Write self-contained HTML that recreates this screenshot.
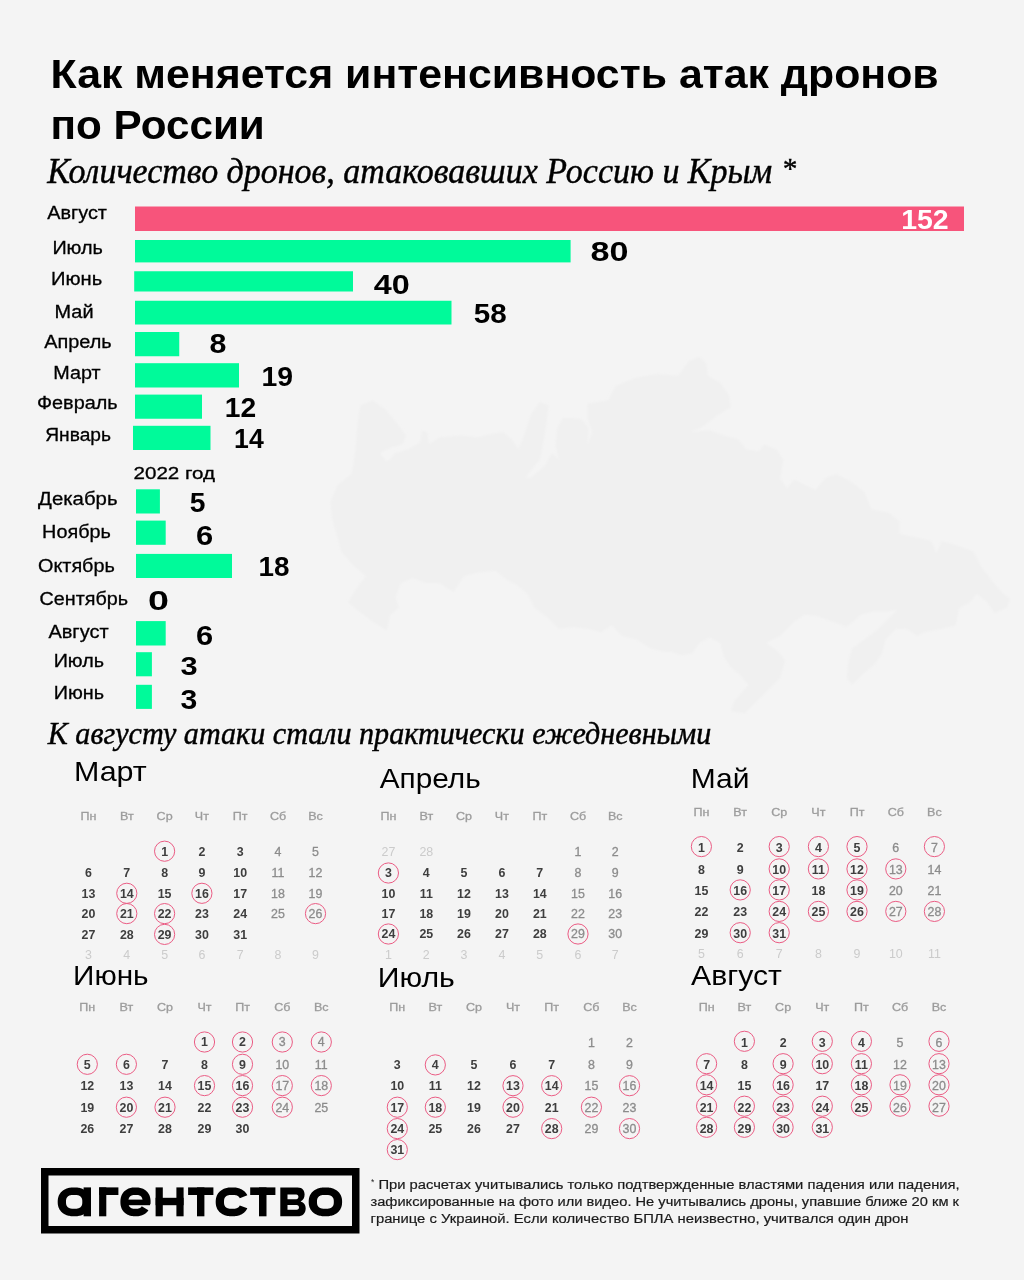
<!DOCTYPE html>
<html lang="ru">
<head>
<meta charset="utf-8">
<title>Как меняется интенсивность атак дронов по России</title>
<style>
html,body{margin:0;padding:0;background:#f4f4f4;}
body{width:1024px;height:1280px;overflow:hidden;font-family:'Liberation Sans',sans-serif;}
svg{display:block;will-change:transform;}
</style>
</head>
<body>
<svg width="1024" height="1280" viewBox="0 0 1024 1280">
<rect width="1024" height="1280" fill="#f4f4f4"/>
<defs><filter id="soft" x="-5%" y="-5%" width="110%" height="110%"><feGaussianBlur stdDeviation="1.2"/></filter></defs>
<polygon points="360.4,405.6 372.7,400.3 385.0,409.1 395.6,421.4 406.1,435.5 402.6,444.3 390.3,447.8 379.8,453.0 386.8,461.8 395.6,453.0 407.9,449.5 420.2,442.5 422.0,430.2 427.2,432.0 429.0,444.3 439.5,437.2 460.6,435.5 478.2,437.2 492.3,433.7 502.8,432.0 511.6,439.0 518.6,449.5 523.9,435.5 530.9,414.4 539.7,402.1 548.5,405.6 546.8,421.4 543.2,442.5 539.7,460.1 530.9,470.6 525.7,477.7 530.9,477.7 545.0,465.4 552.0,453.0 559.1,460.1 555.5,446.0 557.3,428.4 562.6,417.9 573.1,417.9 581.9,419.6 588.9,428.4 587.2,446.0 592.5,432.0 587.2,417.9 587.2,403.8 608.3,400.3 615.3,386.2 636.4,377.5 657.5,373.9 678.1,375.7 688.6,361.6 699.2,356.4 706.2,363.4 707.9,375.7 720.2,382.7 729.0,395.0 730.8,407.3 716.7,416.1 702.7,426.7 690.4,432.0 709.7,430.2 723.8,435.5 737.8,439.0 746.6,449.5 758.9,451.3 764.2,444.3 776.5,449.5 783.5,460.1 780.0,477.7 787.0,488.2 794.1,479.4 804.6,484.7 815.2,490.0 825.7,477.7 836.3,474.1 850.3,481.2 864.4,491.7 871.4,509.3 889.0,512.8 899.5,521.6 899.5,533.9 917.1,537.4 931.2,540.9 936.5,553.2 941.7,540.9 959.3,546.2 973.4,551.5 980.4,565.5 991.0,579.6 1001.5,591.9 1010.3,598.9 1006.8,607.7 994.5,613.0 987.4,602.5 976.9,593.7 969.9,602.5 959.3,607.7 955.8,625.3 941.7,628.8 924.2,632.3 917.1,635.9 906.6,628.8 896.0,628.8 885.5,639.4 882.0,653.4 874.9,664.0 864.4,672.8 852.1,685.1 846.8,678.0 848.6,660.5 852.1,648.2 864.4,639.4 878.5,628.8 892.5,614.8 897.8,609.5 889.0,611.2 874.9,611.2 860.9,614.8 846.8,627.1 832.8,621.8 818.7,616.5 804.6,614.8 794.1,621.8 780.0,635.9 766.0,642.9 776.5,649.9 785.3,660.5 780.0,678.0 769.5,688.6 755.4,702.7 744.9,713.2 730.8,711.4 734.3,700.9 748.4,685.1 739.6,674.5 730.8,667.5 723.8,657.0 720.2,642.9 709.7,637.6 699.2,642.9 692.1,653.4 681.6,655.2 671.0,651.7 664.5,651.7 650.5,648.2 636.4,639.4 622.3,635.9 611.8,625.3 601.2,632.3 587.2,628.8 573.1,627.1 559.1,628.8 548.5,618.3 534.5,607.7 527.4,593.7 516.9,584.9 506.3,579.6 495.8,570.8 478.2,572.6 464.1,576.1 453.6,591.9 439.5,583.1 425.5,583.1 413.2,577.9 400.9,583.1 395.6,597.2 399.1,607.7 390.3,614.8 386.8,630.6 372.7,621.8 358.7,611.2 348.1,602.5 355.2,590.2 365.7,576.1 353.4,565.5 341.1,551.5 337.6,537.4 332.3,519.8 330.5,502.3 337.6,484.7 351.6,474.1 355.2,453.0 356.9,432.0 358.7,414.4" fill="#f0f0f0" filter="url(#soft)"/>
<text x="50.5" y="88.3" font-family="'Liberation Sans', sans-serif" font-size="41.3" font-weight="bold" textLength="888.21" lengthAdjust="spacingAndGlyphs">Как меняется интенсивность атак дронов</text>
<text x="50.5" y="138.7" font-family="'Liberation Sans', sans-serif" font-size="41.3" font-weight="bold" textLength="214.33" lengthAdjust="spacingAndGlyphs">по России</text>
<text x="47.2" y="183.4" font-family="'Liberation Serif', serif" font-size="35.5" font-style="italic" textLength="724.91" lengthAdjust="spacingAndGlyphs" stroke="#000" stroke-width="0.45">Количество дронов, атаковавших Россию и Крым</text>
<text x="781.4" y="178" font-family="'Liberation Serif', serif" font-size="29" font-style="italic" stroke="#000" stroke-width="0.45">*</text>
<text x="47.8" y="743.6" font-family="'Liberation Serif', serif" font-size="31.5" font-style="italic" textLength="663.47" lengthAdjust="spacingAndGlyphs" stroke="#000" stroke-width="0.45">К августу атаки стали практически ежедневными</text>
<rect x="135" y="206.5" width="829" height="24.5" fill="#f7547b"/>
<text x="47.2" y="219.2" font-family="'Liberation Sans', sans-serif" font-size="18" textLength="59.74" lengthAdjust="spacingAndGlyphs" stroke="#000" stroke-width="0.3">Август</text>
<text x="901.2" y="229.3" font-family="'Liberation Sans', sans-serif" font-size="28.43" font-weight="bold" fill="#fff" textLength="47.47" lengthAdjust="spacingAndGlyphs">152</text>
<rect x="135" y="240" width="435.6" height="22.4" fill="#00fa9a"/>
<text x="52.4" y="253.6" font-family="'Liberation Sans', sans-serif" font-size="18" textLength="50.51" lengthAdjust="spacingAndGlyphs" stroke="#000" stroke-width="0.3">Июль</text>
<text x="590.6" y="261.0" font-family="'Liberation Sans', sans-serif" font-size="28.0" font-weight="bold" textLength="37.97" lengthAdjust="spacingAndGlyphs">80</text>
<rect x="134.2" y="271.25" width="218.8" height="20.25" fill="#00fa9a"/>
<text x="51.0" y="284.5" font-family="'Liberation Sans', sans-serif" font-size="18" textLength="51.21" lengthAdjust="spacingAndGlyphs" stroke="#000" stroke-width="0.3">Июнь</text>
<text x="373.75" y="293.7" font-family="'Liberation Sans', sans-serif" font-size="28.14" font-weight="bold" textLength="36.03" lengthAdjust="spacingAndGlyphs">40</text>
<rect x="135" y="300.75" width="316.5" height="23.75" fill="#00fa9a"/>
<text x="54.5" y="318.25" font-family="'Liberation Sans', sans-serif" font-size="18" textLength="39.01" lengthAdjust="spacingAndGlyphs" stroke="#000" stroke-width="0.3">Май</text>
<text x="473.8" y="323.2" font-family="'Liberation Sans', sans-serif" font-size="28.29" font-weight="bold" textLength="32.94" lengthAdjust="spacingAndGlyphs">58</text>
<rect x="135" y="332" width="44.25" height="24.25" fill="#00fa9a"/>
<text x="44.25" y="348.25" font-family="'Liberation Sans', sans-serif" font-size="18" textLength="67.47" lengthAdjust="spacingAndGlyphs" stroke="#000" stroke-width="0.3">Апрель</text>
<text x="209.5" y="353.3" font-family="'Liberation Sans', sans-serif" font-size="27.0" font-weight="bold" textLength="16.91" lengthAdjust="spacingAndGlyphs">8</text>
<rect x="135" y="363.2" width="104" height="24.3" fill="#00fa9a"/>
<text x="53.25" y="378.75" font-family="'Liberation Sans', sans-serif" font-size="18" textLength="47.29" lengthAdjust="spacingAndGlyphs" stroke="#000" stroke-width="0.3">Март</text>
<text x="261.4" y="385.5" font-family="'Liberation Sans', sans-serif" font-size="27.86" font-weight="bold" textLength="31.61" lengthAdjust="spacingAndGlyphs">19</text>
<rect x="135" y="394.6" width="67" height="24.15" fill="#00fa9a"/>
<text x="37.0" y="408.75" font-family="'Liberation Sans', sans-serif" font-size="18" textLength="80.66" lengthAdjust="spacingAndGlyphs" stroke="#000" stroke-width="0.3">Февраль</text>
<text x="224.7" y="416.8" font-family="'Liberation Sans', sans-serif" font-size="27.86" font-weight="bold" textLength="31.4" lengthAdjust="spacingAndGlyphs">12</text>
<rect x="133" y="425.8" width="77.5" height="24.2" fill="#00fa9a"/>
<text x="45.25" y="441" font-family="'Liberation Sans', sans-serif" font-size="18" textLength="65.73" lengthAdjust="spacingAndGlyphs" stroke="#000" stroke-width="0.3">Январь</text>
<text x="234.1" y="448.4" font-family="'Liberation Sans', sans-serif" font-size="28.29" font-weight="bold" textLength="29.62" lengthAdjust="spacingAndGlyphs">14</text>
<rect x="136" y="489.3" width="23.9" height="24.2" fill="#00fa9a"/>
<text x="38.1" y="505" font-family="'Liberation Sans', sans-serif" font-size="18" textLength="79.46" lengthAdjust="spacingAndGlyphs" stroke="#000" stroke-width="0.3">Декабрь</text>
<text x="189.8" y="511.6" font-family="'Liberation Sans', sans-serif" font-size="27.0" font-weight="bold" textLength="15.7" lengthAdjust="spacingAndGlyphs">5</text>
<rect x="136" y="520.6" width="29.7" height="24.2" fill="#00fa9a"/>
<text x="42.1" y="538.4" font-family="'Liberation Sans', sans-serif" font-size="18" textLength="68.77" lengthAdjust="spacingAndGlyphs" stroke="#000" stroke-width="0.3">Ноябрь</text>
<text x="196.0" y="545.4" font-family="'Liberation Sans', sans-serif" font-size="27.29" font-weight="bold" textLength="17.19" lengthAdjust="spacingAndGlyphs">6</text>
<rect x="136" y="553.9" width="96" height="24.1" fill="#00fa9a"/>
<text x="38.0" y="571.6" font-family="'Liberation Sans', sans-serif" font-size="18" textLength="76.84" lengthAdjust="spacingAndGlyphs" stroke="#000" stroke-width="0.3">Октябрь</text>
<text x="258.5" y="576.3" font-family="'Liberation Sans', sans-serif" font-size="26.86" font-weight="bold" textLength="31.0" lengthAdjust="spacingAndGlyphs">18</text>
<text x="39.6" y="605" font-family="'Liberation Sans', sans-serif" font-size="18" textLength="88.52" lengthAdjust="spacingAndGlyphs" stroke="#000" stroke-width="0.3">Сентябрь</text>
<text x="148.1" y="609.5" font-family="'Liberation Sans', sans-serif" font-size="27.29" font-weight="bold" textLength="20.99" lengthAdjust="spacingAndGlyphs">0</text>
<rect x="136" y="621.1" width="29.7" height="24.4" fill="#00fa9a"/>
<text x="48.4" y="637.8" font-family="'Liberation Sans', sans-serif" font-size="18" textLength="60.23" lengthAdjust="spacingAndGlyphs" stroke="#000" stroke-width="0.3">Август</text>
<text x="196.0" y="645.4" font-family="'Liberation Sans', sans-serif" font-size="27.86" font-weight="bold" textLength="17.17" lengthAdjust="spacingAndGlyphs">6</text>
<rect x="136" y="652.2" width="15.9" height="24.1" fill="#00fa9a"/>
<text x="53.7" y="666.9" font-family="'Liberation Sans', sans-serif" font-size="18" textLength="50.28" lengthAdjust="spacingAndGlyphs" stroke="#000" stroke-width="0.3">Июль</text>
<text x="180.4" y="674.7" font-family="'Liberation Sans', sans-serif" font-size="26.43" font-weight="bold" textLength="17.13" lengthAdjust="spacingAndGlyphs">3</text>
<rect x="136" y="684.8" width="15.9" height="24.1" fill="#00fa9a"/>
<text x="53.7" y="699.4" font-family="'Liberation Sans', sans-serif" font-size="18" textLength="50.28" lengthAdjust="spacingAndGlyphs" stroke="#000" stroke-width="0.3">Июнь</text>
<text x="180.4" y="708.9" font-family="'Liberation Sans', sans-serif" font-size="27.86" font-weight="bold" textLength="16.79" lengthAdjust="spacingAndGlyphs">3</text>
<text x="133.5" y="479.25" font-family="'Liberation Sans', sans-serif" font-size="16.6" textLength="81.56" lengthAdjust="spacingAndGlyphs" stroke="#000" stroke-width="0.3">2022 год</text>
<text x="74.0" y="781" font-family="'Liberation Sans', sans-serif" font-size="27.5" textLength="72.79" lengthAdjust="spacingAndGlyphs">Март</text>
<text transform="translate(88.4 820.4) scale(1.12 1)" font-family="'Liberation Sans', sans-serif" font-size="11.2" fill="#9c9c9c" stroke="#9c9c9c" stroke-width="0.3" text-anchor="middle">Пн</text>
<text transform="translate(126.8 820.4) scale(1.12 1)" font-family="'Liberation Sans', sans-serif" font-size="11.2" fill="#9c9c9c" stroke="#9c9c9c" stroke-width="0.3" text-anchor="middle">Вт</text>
<text transform="translate(164.6 820.4) scale(1.12 1)" font-family="'Liberation Sans', sans-serif" font-size="11.2" fill="#9c9c9c" stroke="#9c9c9c" stroke-width="0.3" text-anchor="middle">Ср</text>
<text transform="translate(201.9 820.4) scale(1.12 1)" font-family="'Liberation Sans', sans-serif" font-size="11.2" fill="#9c9c9c" stroke="#9c9c9c" stroke-width="0.3" text-anchor="middle">Чт</text>
<text transform="translate(240.2 820.4) scale(1.12 1)" font-family="'Liberation Sans', sans-serif" font-size="11.2" fill="#9c9c9c" stroke="#9c9c9c" stroke-width="0.3" text-anchor="middle">Пт</text>
<text transform="translate(278 820.4) scale(1.12 1)" font-family="'Liberation Sans', sans-serif" font-size="11.2" fill="#9c9c9c" stroke="#9c9c9c" stroke-width="0.3" text-anchor="middle">Сб</text>
<text transform="translate(315.5 820.4) scale(1.12 1)" font-family="'Liberation Sans', sans-serif" font-size="11.2" fill="#9c9c9c" stroke="#9c9c9c" stroke-width="0.3" text-anchor="middle">Вс</text>
<circle cx="164.6" cy="851.2" r="10.1" fill="none" stroke="#eb5c84" stroke-width="1"/>
<text x="164.6" y="855.6" font-family="'Liberation Sans', sans-serif" font-size="12.4" font-weight="bold" fill="#3e3e3e" text-anchor="middle">1</text>
<text x="201.9" y="855.6" font-family="'Liberation Sans', sans-serif" font-size="12.4" font-weight="bold" fill="#3e3e3e" text-anchor="middle">2</text>
<text x="240.2" y="855.6" font-family="'Liberation Sans', sans-serif" font-size="12.4" font-weight="bold" fill="#3e3e3e" text-anchor="middle">3</text>
<text x="278" y="855.6" font-family="'Liberation Sans', sans-serif" font-size="12.4" fill="#8c8c8c" text-anchor="middle" stroke="#8c8c8c" stroke-width="0.3">4</text>
<text x="315.5" y="855.6" font-family="'Liberation Sans', sans-serif" font-size="12.4" fill="#8c8c8c" text-anchor="middle" stroke="#8c8c8c" stroke-width="0.3">5</text>
<text x="88.4" y="877.4" font-family="'Liberation Sans', sans-serif" font-size="12.4" font-weight="bold" fill="#3e3e3e" text-anchor="middle">6</text>
<text x="126.8" y="877.4" font-family="'Liberation Sans', sans-serif" font-size="12.4" font-weight="bold" fill="#3e3e3e" text-anchor="middle">7</text>
<text x="164.6" y="877.4" font-family="'Liberation Sans', sans-serif" font-size="12.4" font-weight="bold" fill="#3e3e3e" text-anchor="middle">8</text>
<text x="201.9" y="877.4" font-family="'Liberation Sans', sans-serif" font-size="12.4" font-weight="bold" fill="#3e3e3e" text-anchor="middle">9</text>
<text x="240.2" y="877.4" font-family="'Liberation Sans', sans-serif" font-size="12.4" font-weight="bold" fill="#3e3e3e" text-anchor="middle">10</text>
<text x="278" y="877.4" font-family="'Liberation Sans', sans-serif" font-size="12.4" fill="#8c8c8c" text-anchor="middle" stroke="#8c8c8c" stroke-width="0.3">11</text>
<text x="315.5" y="877.4" font-family="'Liberation Sans', sans-serif" font-size="12.4" fill="#8c8c8c" text-anchor="middle" stroke="#8c8c8c" stroke-width="0.3">12</text>
<text x="88.4" y="897.6999999999999" font-family="'Liberation Sans', sans-serif" font-size="12.4" font-weight="bold" fill="#3e3e3e" text-anchor="middle">13</text>
<circle cx="126.8" cy="893.3" r="10.1" fill="none" stroke="#eb5c84" stroke-width="1"/>
<text x="126.8" y="897.6999999999999" font-family="'Liberation Sans', sans-serif" font-size="12.4" font-weight="bold" fill="#3e3e3e" text-anchor="middle">14</text>
<text x="164.6" y="897.6999999999999" font-family="'Liberation Sans', sans-serif" font-size="12.4" font-weight="bold" fill="#3e3e3e" text-anchor="middle">15</text>
<circle cx="201.9" cy="893.3" r="10.1" fill="none" stroke="#eb5c84" stroke-width="1"/>
<text x="201.9" y="897.6999999999999" font-family="'Liberation Sans', sans-serif" font-size="12.4" font-weight="bold" fill="#3e3e3e" text-anchor="middle">16</text>
<text x="240.2" y="897.6999999999999" font-family="'Liberation Sans', sans-serif" font-size="12.4" font-weight="bold" fill="#3e3e3e" text-anchor="middle">17</text>
<text x="278" y="897.6999999999999" font-family="'Liberation Sans', sans-serif" font-size="12.4" fill="#8c8c8c" text-anchor="middle" stroke="#8c8c8c" stroke-width="0.3">18</text>
<text x="315.5" y="897.6999999999999" font-family="'Liberation Sans', sans-serif" font-size="12.4" fill="#8c8c8c" text-anchor="middle" stroke="#8c8c8c" stroke-width="0.3">19</text>
<text x="88.4" y="918.0" font-family="'Liberation Sans', sans-serif" font-size="12.4" font-weight="bold" fill="#3e3e3e" text-anchor="middle">20</text>
<circle cx="126.8" cy="913.6" r="10.1" fill="none" stroke="#eb5c84" stroke-width="1"/>
<text x="126.8" y="918.0" font-family="'Liberation Sans', sans-serif" font-size="12.4" font-weight="bold" fill="#3e3e3e" text-anchor="middle">21</text>
<circle cx="164.6" cy="913.6" r="10.1" fill="none" stroke="#eb5c84" stroke-width="1"/>
<text x="164.6" y="918.0" font-family="'Liberation Sans', sans-serif" font-size="12.4" font-weight="bold" fill="#3e3e3e" text-anchor="middle">22</text>
<text x="201.9" y="918.0" font-family="'Liberation Sans', sans-serif" font-size="12.4" font-weight="bold" fill="#3e3e3e" text-anchor="middle">23</text>
<text x="240.2" y="918.0" font-family="'Liberation Sans', sans-serif" font-size="12.4" font-weight="bold" fill="#3e3e3e" text-anchor="middle">24</text>
<text x="278" y="918.0" font-family="'Liberation Sans', sans-serif" font-size="12.4" fill="#8c8c8c" text-anchor="middle" stroke="#8c8c8c" stroke-width="0.3">25</text>
<circle cx="315.5" cy="913.6" r="10.1" fill="none" stroke="#eb5c84" stroke-width="1"/>
<text x="315.5" y="918.0" font-family="'Liberation Sans', sans-serif" font-size="12.4" fill="#8c8c8c" text-anchor="middle" stroke="#8c8c8c" stroke-width="0.3">26</text>
<text x="88.4" y="938.8" font-family="'Liberation Sans', sans-serif" font-size="12.4" font-weight="bold" fill="#3e3e3e" text-anchor="middle">27</text>
<text x="126.8" y="938.8" font-family="'Liberation Sans', sans-serif" font-size="12.4" font-weight="bold" fill="#3e3e3e" text-anchor="middle">28</text>
<circle cx="164.6" cy="934.4" r="10.1" fill="none" stroke="#eb5c84" stroke-width="1"/>
<text x="164.6" y="938.8" font-family="'Liberation Sans', sans-serif" font-size="12.4" font-weight="bold" fill="#3e3e3e" text-anchor="middle">29</text>
<text x="201.9" y="938.8" font-family="'Liberation Sans', sans-serif" font-size="12.4" font-weight="bold" fill="#3e3e3e" text-anchor="middle">30</text>
<text x="240.2" y="938.8" font-family="'Liberation Sans', sans-serif" font-size="12.4" font-weight="bold" fill="#3e3e3e" text-anchor="middle">31</text>
<text x="88.4" y="959.1" font-family="'Liberation Sans', sans-serif" font-size="12.4" fill="#cbcbcb" text-anchor="middle">3</text>
<text x="126.8" y="959.1" font-family="'Liberation Sans', sans-serif" font-size="12.4" fill="#cbcbcb" text-anchor="middle">4</text>
<text x="164.6" y="959.1" font-family="'Liberation Sans', sans-serif" font-size="12.4" fill="#cbcbcb" text-anchor="middle">5</text>
<text x="201.9" y="959.1" font-family="'Liberation Sans', sans-serif" font-size="12.4" fill="#cbcbcb" text-anchor="middle">6</text>
<text x="240.2" y="959.1" font-family="'Liberation Sans', sans-serif" font-size="12.4" fill="#cbcbcb" text-anchor="middle">7</text>
<text x="278" y="959.1" font-family="'Liberation Sans', sans-serif" font-size="12.4" fill="#cbcbcb" text-anchor="middle">8</text>
<text x="315.5" y="959.1" font-family="'Liberation Sans', sans-serif" font-size="12.4" fill="#cbcbcb" text-anchor="middle">9</text>
<text x="379.7" y="788" font-family="'Liberation Sans', sans-serif" font-size="27.5" textLength="101.03" lengthAdjust="spacingAndGlyphs">Апрель</text>
<text transform="translate(388.4 820.4) scale(1.12 1)" font-family="'Liberation Sans', sans-serif" font-size="11.2" fill="#9c9c9c" stroke="#9c9c9c" stroke-width="0.3" text-anchor="middle">Пн</text>
<text transform="translate(426.3 820.4) scale(1.12 1)" font-family="'Liberation Sans', sans-serif" font-size="11.2" fill="#9c9c9c" stroke="#9c9c9c" stroke-width="0.3" text-anchor="middle">Вт</text>
<text transform="translate(463.9 820.4) scale(1.12 1)" font-family="'Liberation Sans', sans-serif" font-size="11.2" fill="#9c9c9c" stroke="#9c9c9c" stroke-width="0.3" text-anchor="middle">Ср</text>
<text transform="translate(501.9 820.4) scale(1.12 1)" font-family="'Liberation Sans', sans-serif" font-size="11.2" fill="#9c9c9c" stroke="#9c9c9c" stroke-width="0.3" text-anchor="middle">Чт</text>
<text transform="translate(539.8 820.4) scale(1.12 1)" font-family="'Liberation Sans', sans-serif" font-size="11.2" fill="#9c9c9c" stroke="#9c9c9c" stroke-width="0.3" text-anchor="middle">Пт</text>
<text transform="translate(578 820.4) scale(1.12 1)" font-family="'Liberation Sans', sans-serif" font-size="11.2" fill="#9c9c9c" stroke="#9c9c9c" stroke-width="0.3" text-anchor="middle">Сб</text>
<text transform="translate(615.2 820.4) scale(1.12 1)" font-family="'Liberation Sans', sans-serif" font-size="11.2" fill="#9c9c9c" stroke="#9c9c9c" stroke-width="0.3" text-anchor="middle">Вс</text>
<text x="388.4" y="855.6" font-family="'Liberation Sans', sans-serif" font-size="12.4" fill="#cbcbcb" text-anchor="middle">27</text>
<text x="426.3" y="855.6" font-family="'Liberation Sans', sans-serif" font-size="12.4" fill="#cbcbcb" text-anchor="middle">28</text>
<text x="578" y="855.6" font-family="'Liberation Sans', sans-serif" font-size="12.4" fill="#8c8c8c" text-anchor="middle" stroke="#8c8c8c" stroke-width="0.3">1</text>
<text x="615.2" y="855.6" font-family="'Liberation Sans', sans-serif" font-size="12.4" fill="#8c8c8c" text-anchor="middle" stroke="#8c8c8c" stroke-width="0.3">2</text>
<circle cx="388.4" cy="873" r="10.1" fill="none" stroke="#eb5c84" stroke-width="1"/>
<text x="388.4" y="877.4" font-family="'Liberation Sans', sans-serif" font-size="12.4" font-weight="bold" fill="#3e3e3e" text-anchor="middle">3</text>
<text x="426.3" y="877.4" font-family="'Liberation Sans', sans-serif" font-size="12.4" font-weight="bold" fill="#3e3e3e" text-anchor="middle">4</text>
<text x="463.9" y="877.4" font-family="'Liberation Sans', sans-serif" font-size="12.4" font-weight="bold" fill="#3e3e3e" text-anchor="middle">5</text>
<text x="501.9" y="877.4" font-family="'Liberation Sans', sans-serif" font-size="12.4" font-weight="bold" fill="#3e3e3e" text-anchor="middle">6</text>
<text x="539.8" y="877.4" font-family="'Liberation Sans', sans-serif" font-size="12.4" font-weight="bold" fill="#3e3e3e" text-anchor="middle">7</text>
<text x="578" y="877.4" font-family="'Liberation Sans', sans-serif" font-size="12.4" fill="#8c8c8c" text-anchor="middle" stroke="#8c8c8c" stroke-width="0.3">8</text>
<text x="615.2" y="877.4" font-family="'Liberation Sans', sans-serif" font-size="12.4" fill="#8c8c8c" text-anchor="middle" stroke="#8c8c8c" stroke-width="0.3">9</text>
<text x="388.4" y="897.6999999999999" font-family="'Liberation Sans', sans-serif" font-size="12.4" font-weight="bold" fill="#3e3e3e" text-anchor="middle">10</text>
<text x="426.3" y="897.6999999999999" font-family="'Liberation Sans', sans-serif" font-size="12.4" font-weight="bold" fill="#3e3e3e" text-anchor="middle">11</text>
<text x="463.9" y="897.6999999999999" font-family="'Liberation Sans', sans-serif" font-size="12.4" font-weight="bold" fill="#3e3e3e" text-anchor="middle">12</text>
<text x="501.9" y="897.6999999999999" font-family="'Liberation Sans', sans-serif" font-size="12.4" font-weight="bold" fill="#3e3e3e" text-anchor="middle">13</text>
<text x="539.8" y="897.6999999999999" font-family="'Liberation Sans', sans-serif" font-size="12.4" font-weight="bold" fill="#3e3e3e" text-anchor="middle">14</text>
<text x="578" y="897.6999999999999" font-family="'Liberation Sans', sans-serif" font-size="12.4" fill="#8c8c8c" text-anchor="middle" stroke="#8c8c8c" stroke-width="0.3">15</text>
<text x="615.2" y="897.6999999999999" font-family="'Liberation Sans', sans-serif" font-size="12.4" fill="#8c8c8c" text-anchor="middle" stroke="#8c8c8c" stroke-width="0.3">16</text>
<text x="388.4" y="918.0" font-family="'Liberation Sans', sans-serif" font-size="12.4" font-weight="bold" fill="#3e3e3e" text-anchor="middle">17</text>
<text x="426.3" y="918.0" font-family="'Liberation Sans', sans-serif" font-size="12.4" font-weight="bold" fill="#3e3e3e" text-anchor="middle">18</text>
<text x="463.9" y="918.0" font-family="'Liberation Sans', sans-serif" font-size="12.4" font-weight="bold" fill="#3e3e3e" text-anchor="middle">19</text>
<text x="501.9" y="918.0" font-family="'Liberation Sans', sans-serif" font-size="12.4" font-weight="bold" fill="#3e3e3e" text-anchor="middle">20</text>
<text x="539.8" y="918.0" font-family="'Liberation Sans', sans-serif" font-size="12.4" font-weight="bold" fill="#3e3e3e" text-anchor="middle">21</text>
<text x="578" y="918.0" font-family="'Liberation Sans', sans-serif" font-size="12.4" fill="#8c8c8c" text-anchor="middle" stroke="#8c8c8c" stroke-width="0.3">22</text>
<text x="615.2" y="918.0" font-family="'Liberation Sans', sans-serif" font-size="12.4" fill="#8c8c8c" text-anchor="middle" stroke="#8c8c8c" stroke-width="0.3">23</text>
<circle cx="388.4" cy="934" r="10.1" fill="none" stroke="#eb5c84" stroke-width="1"/>
<text x="388.4" y="938.4" font-family="'Liberation Sans', sans-serif" font-size="12.4" font-weight="bold" fill="#3e3e3e" text-anchor="middle">24</text>
<text x="426.3" y="938.4" font-family="'Liberation Sans', sans-serif" font-size="12.4" font-weight="bold" fill="#3e3e3e" text-anchor="middle">25</text>
<text x="463.9" y="938.4" font-family="'Liberation Sans', sans-serif" font-size="12.4" font-weight="bold" fill="#3e3e3e" text-anchor="middle">26</text>
<text x="501.9" y="938.4" font-family="'Liberation Sans', sans-serif" font-size="12.4" font-weight="bold" fill="#3e3e3e" text-anchor="middle">27</text>
<text x="539.8" y="938.4" font-family="'Liberation Sans', sans-serif" font-size="12.4" font-weight="bold" fill="#3e3e3e" text-anchor="middle">28</text>
<circle cx="578" cy="934" r="10.1" fill="none" stroke="#eb5c84" stroke-width="1"/>
<text x="578" y="938.4" font-family="'Liberation Sans', sans-serif" font-size="12.4" fill="#8c8c8c" text-anchor="middle" stroke="#8c8c8c" stroke-width="0.3">29</text>
<text x="615.2" y="938.4" font-family="'Liberation Sans', sans-serif" font-size="12.4" fill="#8c8c8c" text-anchor="middle" stroke="#8c8c8c" stroke-width="0.3">30</text>
<text x="388.4" y="959.1" font-family="'Liberation Sans', sans-serif" font-size="12.4" fill="#cbcbcb" text-anchor="middle">1</text>
<text x="426.3" y="959.1" font-family="'Liberation Sans', sans-serif" font-size="12.4" fill="#cbcbcb" text-anchor="middle">2</text>
<text x="463.9" y="959.1" font-family="'Liberation Sans', sans-serif" font-size="12.4" fill="#cbcbcb" text-anchor="middle">3</text>
<text x="501.9" y="959.1" font-family="'Liberation Sans', sans-serif" font-size="12.4" fill="#cbcbcb" text-anchor="middle">4</text>
<text x="539.8" y="959.1" font-family="'Liberation Sans', sans-serif" font-size="12.4" fill="#cbcbcb" text-anchor="middle">5</text>
<text x="578" y="959.1" font-family="'Liberation Sans', sans-serif" font-size="12.4" fill="#cbcbcb" text-anchor="middle">6</text>
<text x="615.2" y="959.1" font-family="'Liberation Sans', sans-serif" font-size="12.4" fill="#cbcbcb" text-anchor="middle">7</text>
<text x="690.8" y="788" font-family="'Liberation Sans', sans-serif" font-size="27.5" textLength="58.7" lengthAdjust="spacingAndGlyphs">Май</text>
<text transform="translate(701.4 815.9) scale(1.12 1)" font-family="'Liberation Sans', sans-serif" font-size="11.2" fill="#9c9c9c" stroke="#9c9c9c" stroke-width="0.3" text-anchor="middle">Пн</text>
<text transform="translate(740.2 815.9) scale(1.12 1)" font-family="'Liberation Sans', sans-serif" font-size="11.2" fill="#9c9c9c" stroke="#9c9c9c" stroke-width="0.3" text-anchor="middle">Вт</text>
<text transform="translate(779.2 815.9) scale(1.12 1)" font-family="'Liberation Sans', sans-serif" font-size="11.2" fill="#9c9c9c" stroke="#9c9c9c" stroke-width="0.3" text-anchor="middle">Ср</text>
<text transform="translate(818.4 815.9) scale(1.12 1)" font-family="'Liberation Sans', sans-serif" font-size="11.2" fill="#9c9c9c" stroke="#9c9c9c" stroke-width="0.3" text-anchor="middle">Чт</text>
<text transform="translate(857 815.9) scale(1.12 1)" font-family="'Liberation Sans', sans-serif" font-size="11.2" fill="#9c9c9c" stroke="#9c9c9c" stroke-width="0.3" text-anchor="middle">Пт</text>
<text transform="translate(895.8 815.9) scale(1.12 1)" font-family="'Liberation Sans', sans-serif" font-size="11.2" fill="#9c9c9c" stroke="#9c9c9c" stroke-width="0.3" text-anchor="middle">Сб</text>
<text transform="translate(934.4 815.9) scale(1.12 1)" font-family="'Liberation Sans', sans-serif" font-size="11.2" fill="#9c9c9c" stroke="#9c9c9c" stroke-width="0.3" text-anchor="middle">Вс</text>
<circle cx="701.4" cy="846.6" r="10.1" fill="none" stroke="#eb5c84" stroke-width="1"/>
<text x="701.4" y="851.6" font-family="'Liberation Sans', sans-serif" font-size="12.4" font-weight="bold" fill="#3e3e3e" text-anchor="middle">1</text>
<text x="740.2" y="851.6" font-family="'Liberation Sans', sans-serif" font-size="12.4" font-weight="bold" fill="#3e3e3e" text-anchor="middle">2</text>
<circle cx="779.2" cy="846.6" r="10.1" fill="none" stroke="#eb5c84" stroke-width="1"/>
<text x="779.2" y="851.6" font-family="'Liberation Sans', sans-serif" font-size="12.4" font-weight="bold" fill="#3e3e3e" text-anchor="middle">3</text>
<circle cx="818.4" cy="846.6" r="10.1" fill="none" stroke="#eb5c84" stroke-width="1"/>
<text x="818.4" y="851.6" font-family="'Liberation Sans', sans-serif" font-size="12.4" font-weight="bold" fill="#3e3e3e" text-anchor="middle">4</text>
<circle cx="857" cy="846.6" r="10.1" fill="none" stroke="#eb5c84" stroke-width="1"/>
<text x="857" y="851.6" font-family="'Liberation Sans', sans-serif" font-size="12.4" font-weight="bold" fill="#3e3e3e" text-anchor="middle">5</text>
<text x="895.8" y="851.6" font-family="'Liberation Sans', sans-serif" font-size="12.4" fill="#8c8c8c" text-anchor="middle" stroke="#8c8c8c" stroke-width="0.3">6</text>
<circle cx="934.4" cy="846.6" r="10.1" fill="none" stroke="#eb5c84" stroke-width="1"/>
<text x="934.4" y="851.6" font-family="'Liberation Sans', sans-serif" font-size="12.4" fill="#8c8c8c" text-anchor="middle" stroke="#8c8c8c" stroke-width="0.3">7</text>
<text x="701.4" y="873.9" font-family="'Liberation Sans', sans-serif" font-size="12.4" font-weight="bold" fill="#3e3e3e" text-anchor="middle">8</text>
<text x="740.2" y="873.9" font-family="'Liberation Sans', sans-serif" font-size="12.4" font-weight="bold" fill="#3e3e3e" text-anchor="middle">9</text>
<circle cx="779.2" cy="868.9" r="10.1" fill="none" stroke="#eb5c84" stroke-width="1"/>
<text x="779.2" y="873.9" font-family="'Liberation Sans', sans-serif" font-size="12.4" font-weight="bold" fill="#3e3e3e" text-anchor="middle">10</text>
<circle cx="818.4" cy="868.9" r="10.1" fill="none" stroke="#eb5c84" stroke-width="1"/>
<text x="818.4" y="873.9" font-family="'Liberation Sans', sans-serif" font-size="12.4" font-weight="bold" fill="#3e3e3e" text-anchor="middle">11</text>
<circle cx="857" cy="868.9" r="10.1" fill="none" stroke="#eb5c84" stroke-width="1"/>
<text x="857" y="873.9" font-family="'Liberation Sans', sans-serif" font-size="12.4" font-weight="bold" fill="#3e3e3e" text-anchor="middle">12</text>
<circle cx="895.8" cy="868.9" r="10.1" fill="none" stroke="#eb5c84" stroke-width="1"/>
<text x="895.8" y="873.9" font-family="'Liberation Sans', sans-serif" font-size="12.4" fill="#8c8c8c" text-anchor="middle" stroke="#8c8c8c" stroke-width="0.3">13</text>
<text x="934.4" y="873.9" font-family="'Liberation Sans', sans-serif" font-size="12.4" fill="#8c8c8c" text-anchor="middle" stroke="#8c8c8c" stroke-width="0.3">14</text>
<text x="701.4" y="894.9" font-family="'Liberation Sans', sans-serif" font-size="12.4" font-weight="bold" fill="#3e3e3e" text-anchor="middle">15</text>
<circle cx="740.2" cy="889.9" r="10.1" fill="none" stroke="#eb5c84" stroke-width="1"/>
<text x="740.2" y="894.9" font-family="'Liberation Sans', sans-serif" font-size="12.4" font-weight="bold" fill="#3e3e3e" text-anchor="middle">16</text>
<circle cx="779.2" cy="889.9" r="10.1" fill="none" stroke="#eb5c84" stroke-width="1"/>
<text x="779.2" y="894.9" font-family="'Liberation Sans', sans-serif" font-size="12.4" font-weight="bold" fill="#3e3e3e" text-anchor="middle">17</text>
<text x="818.4" y="894.9" font-family="'Liberation Sans', sans-serif" font-size="12.4" font-weight="bold" fill="#3e3e3e" text-anchor="middle">18</text>
<circle cx="857" cy="889.9" r="10.1" fill="none" stroke="#eb5c84" stroke-width="1"/>
<text x="857" y="894.9" font-family="'Liberation Sans', sans-serif" font-size="12.4" font-weight="bold" fill="#3e3e3e" text-anchor="middle">19</text>
<text x="895.8" y="894.9" font-family="'Liberation Sans', sans-serif" font-size="12.4" fill="#8c8c8c" text-anchor="middle" stroke="#8c8c8c" stroke-width="0.3">20</text>
<text x="934.4" y="894.9" font-family="'Liberation Sans', sans-serif" font-size="12.4" fill="#8c8c8c" text-anchor="middle" stroke="#8c8c8c" stroke-width="0.3">21</text>
<text x="701.4" y="916.4" font-family="'Liberation Sans', sans-serif" font-size="12.4" font-weight="bold" fill="#3e3e3e" text-anchor="middle">22</text>
<text x="740.2" y="916.4" font-family="'Liberation Sans', sans-serif" font-size="12.4" font-weight="bold" fill="#3e3e3e" text-anchor="middle">23</text>
<circle cx="779.2" cy="911.4" r="10.1" fill="none" stroke="#eb5c84" stroke-width="1"/>
<text x="779.2" y="916.4" font-family="'Liberation Sans', sans-serif" font-size="12.4" font-weight="bold" fill="#3e3e3e" text-anchor="middle">24</text>
<circle cx="818.4" cy="911.4" r="10.1" fill="none" stroke="#eb5c84" stroke-width="1"/>
<text x="818.4" y="916.4" font-family="'Liberation Sans', sans-serif" font-size="12.4" font-weight="bold" fill="#3e3e3e" text-anchor="middle">25</text>
<circle cx="857" cy="911.4" r="10.1" fill="none" stroke="#eb5c84" stroke-width="1"/>
<text x="857" y="916.4" font-family="'Liberation Sans', sans-serif" font-size="12.4" font-weight="bold" fill="#3e3e3e" text-anchor="middle">26</text>
<circle cx="895.8" cy="911.4" r="10.1" fill="none" stroke="#eb5c84" stroke-width="1"/>
<text x="895.8" y="916.4" font-family="'Liberation Sans', sans-serif" font-size="12.4" fill="#8c8c8c" text-anchor="middle" stroke="#8c8c8c" stroke-width="0.3">27</text>
<circle cx="934.4" cy="911.4" r="10.1" fill="none" stroke="#eb5c84" stroke-width="1"/>
<text x="934.4" y="916.4" font-family="'Liberation Sans', sans-serif" font-size="12.4" fill="#8c8c8c" text-anchor="middle" stroke="#8c8c8c" stroke-width="0.3">28</text>
<text x="701.4" y="937.6999999999999" font-family="'Liberation Sans', sans-serif" font-size="12.4" font-weight="bold" fill="#3e3e3e" text-anchor="middle">29</text>
<circle cx="740.2" cy="932.7" r="10.1" fill="none" stroke="#eb5c84" stroke-width="1"/>
<text x="740.2" y="937.6999999999999" font-family="'Liberation Sans', sans-serif" font-size="12.4" font-weight="bold" fill="#3e3e3e" text-anchor="middle">30</text>
<circle cx="779.2" cy="932.7" r="10.1" fill="none" stroke="#eb5c84" stroke-width="1"/>
<text x="779.2" y="937.6999999999999" font-family="'Liberation Sans', sans-serif" font-size="12.4" font-weight="bold" fill="#3e3e3e" text-anchor="middle">31</text>
<text x="701.4" y="958.1999999999999" font-family="'Liberation Sans', sans-serif" font-size="12.4" fill="#cbcbcb" text-anchor="middle">5</text>
<text x="740.2" y="958.1999999999999" font-family="'Liberation Sans', sans-serif" font-size="12.4" fill="#cbcbcb" text-anchor="middle">6</text>
<text x="779.2" y="958.1999999999999" font-family="'Liberation Sans', sans-serif" font-size="12.4" fill="#cbcbcb" text-anchor="middle">7</text>
<text x="818.4" y="958.1999999999999" font-family="'Liberation Sans', sans-serif" font-size="12.4" fill="#cbcbcb" text-anchor="middle">8</text>
<text x="857" y="958.1999999999999" font-family="'Liberation Sans', sans-serif" font-size="12.4" fill="#cbcbcb" text-anchor="middle">9</text>
<text x="895.8" y="958.1999999999999" font-family="'Liberation Sans', sans-serif" font-size="12.4" fill="#cbcbcb" text-anchor="middle">10</text>
<text x="934.4" y="958.1999999999999" font-family="'Liberation Sans', sans-serif" font-size="12.4" fill="#cbcbcb" text-anchor="middle">11</text>
<text x="73.0" y="984.7" font-family="'Liberation Sans', sans-serif" font-size="27.5" textLength="75.6" lengthAdjust="spacingAndGlyphs">Июнь</text>
<text transform="translate(87.3 1010.9) scale(1.12 1)" font-family="'Liberation Sans', sans-serif" font-size="11.2" fill="#9c9c9c" stroke="#9c9c9c" stroke-width="0.3" text-anchor="middle">Пн</text>
<text transform="translate(126.4 1010.9) scale(1.12 1)" font-family="'Liberation Sans', sans-serif" font-size="11.2" fill="#9c9c9c" stroke="#9c9c9c" stroke-width="0.3" text-anchor="middle">Вт</text>
<text transform="translate(165 1010.9) scale(1.12 1)" font-family="'Liberation Sans', sans-serif" font-size="11.2" fill="#9c9c9c" stroke="#9c9c9c" stroke-width="0.3" text-anchor="middle">Ср</text>
<text transform="translate(204.5 1010.9) scale(1.12 1)" font-family="'Liberation Sans', sans-serif" font-size="11.2" fill="#9c9c9c" stroke="#9c9c9c" stroke-width="0.3" text-anchor="middle">Чт</text>
<text transform="translate(242.5 1010.9) scale(1.12 1)" font-family="'Liberation Sans', sans-serif" font-size="11.2" fill="#9c9c9c" stroke="#9c9c9c" stroke-width="0.3" text-anchor="middle">Пт</text>
<text transform="translate(282.3 1010.9) scale(1.12 1)" font-family="'Liberation Sans', sans-serif" font-size="11.2" fill="#9c9c9c" stroke="#9c9c9c" stroke-width="0.3" text-anchor="middle">Сб</text>
<text transform="translate(321.3 1010.9) scale(1.12 1)" font-family="'Liberation Sans', sans-serif" font-size="11.2" fill="#9c9c9c" stroke="#9c9c9c" stroke-width="0.3" text-anchor="middle">Вс</text>
<circle cx="204.5" cy="1042" r="10.1" fill="none" stroke="#eb5c84" stroke-width="1"/>
<text x="204.5" y="1046.4" font-family="'Liberation Sans', sans-serif" font-size="12.4" font-weight="bold" fill="#3e3e3e" text-anchor="middle">1</text>
<circle cx="242.5" cy="1042" r="10.1" fill="none" stroke="#eb5c84" stroke-width="1"/>
<text x="242.5" y="1046.4" font-family="'Liberation Sans', sans-serif" font-size="12.4" font-weight="bold" fill="#3e3e3e" text-anchor="middle">2</text>
<circle cx="282.3" cy="1042" r="10.1" fill="none" stroke="#eb5c84" stroke-width="1"/>
<text x="282.3" y="1046.4" font-family="'Liberation Sans', sans-serif" font-size="12.4" fill="#8c8c8c" text-anchor="middle" stroke="#8c8c8c" stroke-width="0.3">3</text>
<circle cx="321.3" cy="1042" r="10.1" fill="none" stroke="#eb5c84" stroke-width="1"/>
<text x="321.3" y="1046.4" font-family="'Liberation Sans', sans-serif" font-size="12.4" fill="#8c8c8c" text-anchor="middle" stroke="#8c8c8c" stroke-width="0.3">4</text>
<circle cx="87.3" cy="1064.3" r="10.1" fill="none" stroke="#eb5c84" stroke-width="1"/>
<text x="87.3" y="1068.7" font-family="'Liberation Sans', sans-serif" font-size="12.4" font-weight="bold" fill="#3e3e3e" text-anchor="middle">5</text>
<circle cx="126.4" cy="1064.3" r="10.1" fill="none" stroke="#eb5c84" stroke-width="1"/>
<text x="126.4" y="1068.7" font-family="'Liberation Sans', sans-serif" font-size="12.4" font-weight="bold" fill="#3e3e3e" text-anchor="middle">6</text>
<text x="165" y="1068.7" font-family="'Liberation Sans', sans-serif" font-size="12.4" font-weight="bold" fill="#3e3e3e" text-anchor="middle">7</text>
<text x="204.5" y="1068.7" font-family="'Liberation Sans', sans-serif" font-size="12.4" font-weight="bold" fill="#3e3e3e" text-anchor="middle">8</text>
<circle cx="242.5" cy="1064.3" r="10.1" fill="none" stroke="#eb5c84" stroke-width="1"/>
<text x="242.5" y="1068.7" font-family="'Liberation Sans', sans-serif" font-size="12.4" font-weight="bold" fill="#3e3e3e" text-anchor="middle">9</text>
<text x="282.3" y="1068.7" font-family="'Liberation Sans', sans-serif" font-size="12.4" fill="#8c8c8c" text-anchor="middle" stroke="#8c8c8c" stroke-width="0.3">10</text>
<text x="321.3" y="1068.7" font-family="'Liberation Sans', sans-serif" font-size="12.4" fill="#8c8c8c" text-anchor="middle" stroke="#8c8c8c" stroke-width="0.3">11</text>
<text x="87.3" y="1090.0" font-family="'Liberation Sans', sans-serif" font-size="12.4" font-weight="bold" fill="#3e3e3e" text-anchor="middle">12</text>
<text x="126.4" y="1090.0" font-family="'Liberation Sans', sans-serif" font-size="12.4" font-weight="bold" fill="#3e3e3e" text-anchor="middle">13</text>
<text x="165" y="1090.0" font-family="'Liberation Sans', sans-serif" font-size="12.4" font-weight="bold" fill="#3e3e3e" text-anchor="middle">14</text>
<circle cx="204.5" cy="1085.6" r="10.1" fill="none" stroke="#eb5c84" stroke-width="1"/>
<text x="204.5" y="1090.0" font-family="'Liberation Sans', sans-serif" font-size="12.4" font-weight="bold" fill="#3e3e3e" text-anchor="middle">15</text>
<circle cx="242.5" cy="1085.6" r="10.1" fill="none" stroke="#eb5c84" stroke-width="1"/>
<text x="242.5" y="1090.0" font-family="'Liberation Sans', sans-serif" font-size="12.4" font-weight="bold" fill="#3e3e3e" text-anchor="middle">16</text>
<circle cx="282.3" cy="1085.6" r="10.1" fill="none" stroke="#eb5c84" stroke-width="1"/>
<text x="282.3" y="1090.0" font-family="'Liberation Sans', sans-serif" font-size="12.4" fill="#8c8c8c" text-anchor="middle" stroke="#8c8c8c" stroke-width="0.3">17</text>
<circle cx="321.3" cy="1085.6" r="10.1" fill="none" stroke="#eb5c84" stroke-width="1"/>
<text x="321.3" y="1090.0" font-family="'Liberation Sans', sans-serif" font-size="12.4" fill="#8c8c8c" text-anchor="middle" stroke="#8c8c8c" stroke-width="0.3">18</text>
<text x="87.3" y="1111.6000000000001" font-family="'Liberation Sans', sans-serif" font-size="12.4" font-weight="bold" fill="#3e3e3e" text-anchor="middle">19</text>
<circle cx="126.4" cy="1107.2" r="10.1" fill="none" stroke="#eb5c84" stroke-width="1"/>
<text x="126.4" y="1111.6000000000001" font-family="'Liberation Sans', sans-serif" font-size="12.4" font-weight="bold" fill="#3e3e3e" text-anchor="middle">20</text>
<circle cx="165" cy="1107.2" r="10.1" fill="none" stroke="#eb5c84" stroke-width="1"/>
<text x="165" y="1111.6000000000001" font-family="'Liberation Sans', sans-serif" font-size="12.4" font-weight="bold" fill="#3e3e3e" text-anchor="middle">21</text>
<text x="204.5" y="1111.6000000000001" font-family="'Liberation Sans', sans-serif" font-size="12.4" font-weight="bold" fill="#3e3e3e" text-anchor="middle">22</text>
<circle cx="242.5" cy="1107.2" r="10.1" fill="none" stroke="#eb5c84" stroke-width="1"/>
<text x="242.5" y="1111.6000000000001" font-family="'Liberation Sans', sans-serif" font-size="12.4" font-weight="bold" fill="#3e3e3e" text-anchor="middle">23</text>
<circle cx="282.3" cy="1107.2" r="10.1" fill="none" stroke="#eb5c84" stroke-width="1"/>
<text x="282.3" y="1111.6000000000001" font-family="'Liberation Sans', sans-serif" font-size="12.4" fill="#8c8c8c" text-anchor="middle" stroke="#8c8c8c" stroke-width="0.3">24</text>
<text x="321.3" y="1111.6000000000001" font-family="'Liberation Sans', sans-serif" font-size="12.4" fill="#8c8c8c" text-anchor="middle" stroke="#8c8c8c" stroke-width="0.3">25</text>
<text x="87.3" y="1132.6000000000001" font-family="'Liberation Sans', sans-serif" font-size="12.4" font-weight="bold" fill="#3e3e3e" text-anchor="middle">26</text>
<text x="126.4" y="1132.6000000000001" font-family="'Liberation Sans', sans-serif" font-size="12.4" font-weight="bold" fill="#3e3e3e" text-anchor="middle">27</text>
<text x="165" y="1132.6000000000001" font-family="'Liberation Sans', sans-serif" font-size="12.4" font-weight="bold" fill="#3e3e3e" text-anchor="middle">28</text>
<text x="204.5" y="1132.6000000000001" font-family="'Liberation Sans', sans-serif" font-size="12.4" font-weight="bold" fill="#3e3e3e" text-anchor="middle">29</text>
<text x="242.5" y="1132.6000000000001" font-family="'Liberation Sans', sans-serif" font-size="12.4" font-weight="bold" fill="#3e3e3e" text-anchor="middle">30</text>
<text x="377.7" y="987" font-family="'Liberation Sans', sans-serif" font-size="27.5" textLength="77.11" lengthAdjust="spacingAndGlyphs">Июль</text>
<text transform="translate(397.3 1010.9) scale(1.12 1)" font-family="'Liberation Sans', sans-serif" font-size="11.2" fill="#9c9c9c" stroke="#9c9c9c" stroke-width="0.3" text-anchor="middle">Пн</text>
<text transform="translate(435.3 1010.9) scale(1.12 1)" font-family="'Liberation Sans', sans-serif" font-size="11.2" fill="#9c9c9c" stroke="#9c9c9c" stroke-width="0.3" text-anchor="middle">Вт</text>
<text transform="translate(473.9 1010.9) scale(1.12 1)" font-family="'Liberation Sans', sans-serif" font-size="11.2" fill="#9c9c9c" stroke="#9c9c9c" stroke-width="0.3" text-anchor="middle">Ср</text>
<text transform="translate(513 1010.9) scale(1.12 1)" font-family="'Liberation Sans', sans-serif" font-size="11.2" fill="#9c9c9c" stroke="#9c9c9c" stroke-width="0.3" text-anchor="middle">Чт</text>
<text transform="translate(551.7 1010.9) scale(1.12 1)" font-family="'Liberation Sans', sans-serif" font-size="11.2" fill="#9c9c9c" stroke="#9c9c9c" stroke-width="0.3" text-anchor="middle">Пт</text>
<text transform="translate(591.4 1010.9) scale(1.12 1)" font-family="'Liberation Sans', sans-serif" font-size="11.2" fill="#9c9c9c" stroke="#9c9c9c" stroke-width="0.3" text-anchor="middle">Сб</text>
<text transform="translate(629.5 1010.9) scale(1.12 1)" font-family="'Liberation Sans', sans-serif" font-size="11.2" fill="#9c9c9c" stroke="#9c9c9c" stroke-width="0.3" text-anchor="middle">Вс</text>
<text x="591.4" y="1047.1000000000001" font-family="'Liberation Sans', sans-serif" font-size="12.4" fill="#8c8c8c" text-anchor="middle" stroke="#8c8c8c" stroke-width="0.3">1</text>
<text x="629.5" y="1047.1000000000001" font-family="'Liberation Sans', sans-serif" font-size="12.4" fill="#8c8c8c" text-anchor="middle" stroke="#8c8c8c" stroke-width="0.3">2</text>
<text x="397.3" y="1069.3000000000002" font-family="'Liberation Sans', sans-serif" font-size="12.4" font-weight="bold" fill="#3e3e3e" text-anchor="middle">3</text>
<circle cx="435.3" cy="1064.9" r="10.1" fill="none" stroke="#eb5c84" stroke-width="1"/>
<text x="435.3" y="1069.3000000000002" font-family="'Liberation Sans', sans-serif" font-size="12.4" font-weight="bold" fill="#3e3e3e" text-anchor="middle">4</text>
<text x="473.9" y="1069.3000000000002" font-family="'Liberation Sans', sans-serif" font-size="12.4" font-weight="bold" fill="#3e3e3e" text-anchor="middle">5</text>
<text x="513" y="1069.3000000000002" font-family="'Liberation Sans', sans-serif" font-size="12.4" font-weight="bold" fill="#3e3e3e" text-anchor="middle">6</text>
<text x="551.7" y="1069.3000000000002" font-family="'Liberation Sans', sans-serif" font-size="12.4" font-weight="bold" fill="#3e3e3e" text-anchor="middle">7</text>
<text x="591.4" y="1069.3000000000002" font-family="'Liberation Sans', sans-serif" font-size="12.4" fill="#8c8c8c" text-anchor="middle" stroke="#8c8c8c" stroke-width="0.3">8</text>
<text x="629.5" y="1069.3000000000002" font-family="'Liberation Sans', sans-serif" font-size="12.4" fill="#8c8c8c" text-anchor="middle" stroke="#8c8c8c" stroke-width="0.3">9</text>
<text x="397.3" y="1090.1000000000001" font-family="'Liberation Sans', sans-serif" font-size="12.4" font-weight="bold" fill="#3e3e3e" text-anchor="middle">10</text>
<text x="435.3" y="1090.1000000000001" font-family="'Liberation Sans', sans-serif" font-size="12.4" font-weight="bold" fill="#3e3e3e" text-anchor="middle">11</text>
<text x="473.9" y="1090.1000000000001" font-family="'Liberation Sans', sans-serif" font-size="12.4" font-weight="bold" fill="#3e3e3e" text-anchor="middle">12</text>
<circle cx="513" cy="1085.7" r="10.1" fill="none" stroke="#eb5c84" stroke-width="1"/>
<text x="513" y="1090.1000000000001" font-family="'Liberation Sans', sans-serif" font-size="12.4" font-weight="bold" fill="#3e3e3e" text-anchor="middle">13</text>
<circle cx="551.7" cy="1085.7" r="10.1" fill="none" stroke="#eb5c84" stroke-width="1"/>
<text x="551.7" y="1090.1000000000001" font-family="'Liberation Sans', sans-serif" font-size="12.4" font-weight="bold" fill="#3e3e3e" text-anchor="middle">14</text>
<text x="591.4" y="1090.1000000000001" font-family="'Liberation Sans', sans-serif" font-size="12.4" fill="#8c8c8c" text-anchor="middle" stroke="#8c8c8c" stroke-width="0.3">15</text>
<circle cx="629.5" cy="1085.7" r="10.1" fill="none" stroke="#eb5c84" stroke-width="1"/>
<text x="629.5" y="1090.1000000000001" font-family="'Liberation Sans', sans-serif" font-size="12.4" fill="#8c8c8c" text-anchor="middle" stroke="#8c8c8c" stroke-width="0.3">16</text>
<circle cx="397.3" cy="1107.2" r="10.1" fill="none" stroke="#eb5c84" stroke-width="1"/>
<text x="397.3" y="1111.6000000000001" font-family="'Liberation Sans', sans-serif" font-size="12.4" font-weight="bold" fill="#3e3e3e" text-anchor="middle">17</text>
<circle cx="435.3" cy="1107.2" r="10.1" fill="none" stroke="#eb5c84" stroke-width="1"/>
<text x="435.3" y="1111.6000000000001" font-family="'Liberation Sans', sans-serif" font-size="12.4" font-weight="bold" fill="#3e3e3e" text-anchor="middle">18</text>
<text x="473.9" y="1111.6000000000001" font-family="'Liberation Sans', sans-serif" font-size="12.4" font-weight="bold" fill="#3e3e3e" text-anchor="middle">19</text>
<circle cx="513" cy="1107.2" r="10.1" fill="none" stroke="#eb5c84" stroke-width="1"/>
<text x="513" y="1111.6000000000001" font-family="'Liberation Sans', sans-serif" font-size="12.4" font-weight="bold" fill="#3e3e3e" text-anchor="middle">20</text>
<text x="551.7" y="1111.6000000000001" font-family="'Liberation Sans', sans-serif" font-size="12.4" font-weight="bold" fill="#3e3e3e" text-anchor="middle">21</text>
<circle cx="591.4" cy="1107.2" r="10.1" fill="none" stroke="#eb5c84" stroke-width="1"/>
<text x="591.4" y="1111.6000000000001" font-family="'Liberation Sans', sans-serif" font-size="12.4" fill="#8c8c8c" text-anchor="middle" stroke="#8c8c8c" stroke-width="0.3">22</text>
<text x="629.5" y="1111.6000000000001" font-family="'Liberation Sans', sans-serif" font-size="12.4" fill="#8c8c8c" text-anchor="middle" stroke="#8c8c8c" stroke-width="0.3">23</text>
<circle cx="397.3" cy="1128.6" r="10.1" fill="none" stroke="#eb5c84" stroke-width="1"/>
<text x="397.3" y="1133.0" font-family="'Liberation Sans', sans-serif" font-size="12.4" font-weight="bold" fill="#3e3e3e" text-anchor="middle">24</text>
<text x="435.3" y="1133.0" font-family="'Liberation Sans', sans-serif" font-size="12.4" font-weight="bold" fill="#3e3e3e" text-anchor="middle">25</text>
<text x="473.9" y="1133.0" font-family="'Liberation Sans', sans-serif" font-size="12.4" font-weight="bold" fill="#3e3e3e" text-anchor="middle">26</text>
<text x="513" y="1133.0" font-family="'Liberation Sans', sans-serif" font-size="12.4" font-weight="bold" fill="#3e3e3e" text-anchor="middle">27</text>
<circle cx="551.7" cy="1128.6" r="10.1" fill="none" stroke="#eb5c84" stroke-width="1"/>
<text x="551.7" y="1133.0" font-family="'Liberation Sans', sans-serif" font-size="12.4" font-weight="bold" fill="#3e3e3e" text-anchor="middle">28</text>
<text x="591.4" y="1133.0" font-family="'Liberation Sans', sans-serif" font-size="12.4" fill="#8c8c8c" text-anchor="middle" stroke="#8c8c8c" stroke-width="0.3">29</text>
<circle cx="629.5" cy="1128.6" r="10.1" fill="none" stroke="#eb5c84" stroke-width="1"/>
<text x="629.5" y="1133.0" font-family="'Liberation Sans', sans-serif" font-size="12.4" fill="#8c8c8c" text-anchor="middle" stroke="#8c8c8c" stroke-width="0.3">30</text>
<circle cx="397.3" cy="1149.6" r="10.1" fill="none" stroke="#eb5c84" stroke-width="1"/>
<text x="397.3" y="1154.0" font-family="'Liberation Sans', sans-serif" font-size="12.4" font-weight="bold" fill="#3e3e3e" text-anchor="middle">31</text>
<text x="691.0" y="985" font-family="'Liberation Sans', sans-serif" font-size="27.5" textLength="90.91" lengthAdjust="spacingAndGlyphs">Август</text>
<text transform="translate(706.6 1010.9) scale(1.12 1)" font-family="'Liberation Sans', sans-serif" font-size="11.2" fill="#9c9c9c" stroke="#9c9c9c" stroke-width="0.3" text-anchor="middle">Пн</text>
<text transform="translate(744.4 1010.9) scale(1.12 1)" font-family="'Liberation Sans', sans-serif" font-size="11.2" fill="#9c9c9c" stroke="#9c9c9c" stroke-width="0.3" text-anchor="middle">Вт</text>
<text transform="translate(783.1 1010.9) scale(1.12 1)" font-family="'Liberation Sans', sans-serif" font-size="11.2" fill="#9c9c9c" stroke="#9c9c9c" stroke-width="0.3" text-anchor="middle">Ср</text>
<text transform="translate(822.3 1010.9) scale(1.12 1)" font-family="'Liberation Sans', sans-serif" font-size="11.2" fill="#9c9c9c" stroke="#9c9c9c" stroke-width="0.3" text-anchor="middle">Чт</text>
<text transform="translate(861.4 1010.9) scale(1.12 1)" font-family="'Liberation Sans', sans-serif" font-size="11.2" fill="#9c9c9c" stroke="#9c9c9c" stroke-width="0.3" text-anchor="middle">Пт</text>
<text transform="translate(900 1010.9) scale(1.12 1)" font-family="'Liberation Sans', sans-serif" font-size="11.2" fill="#9c9c9c" stroke="#9c9c9c" stroke-width="0.3" text-anchor="middle">Сб</text>
<text transform="translate(939 1010.9) scale(1.12 1)" font-family="'Liberation Sans', sans-serif" font-size="11.2" fill="#9c9c9c" stroke="#9c9c9c" stroke-width="0.3" text-anchor="middle">Вс</text>
<circle cx="744.4" cy="1041.3" r="10.1" fill="none" stroke="#eb5c84" stroke-width="1"/>
<text x="744.4" y="1046.7" font-family="'Liberation Sans', sans-serif" font-size="12.4" font-weight="bold" fill="#3e3e3e" text-anchor="middle">1</text>
<text x="783.1" y="1046.7" font-family="'Liberation Sans', sans-serif" font-size="12.4" font-weight="bold" fill="#3e3e3e" text-anchor="middle">2</text>
<circle cx="822.3" cy="1041.3" r="10.1" fill="none" stroke="#eb5c84" stroke-width="1"/>
<text x="822.3" y="1046.7" font-family="'Liberation Sans', sans-serif" font-size="12.4" font-weight="bold" fill="#3e3e3e" text-anchor="middle">3</text>
<circle cx="861.4" cy="1041.3" r="10.1" fill="none" stroke="#eb5c84" stroke-width="1"/>
<text x="861.4" y="1046.7" font-family="'Liberation Sans', sans-serif" font-size="12.4" font-weight="bold" fill="#3e3e3e" text-anchor="middle">4</text>
<text x="900" y="1046.7" font-family="'Liberation Sans', sans-serif" font-size="12.4" fill="#8c8c8c" text-anchor="middle" stroke="#8c8c8c" stroke-width="0.3">5</text>
<circle cx="939" cy="1041.3" r="10.1" fill="none" stroke="#eb5c84" stroke-width="1"/>
<text x="939" y="1046.7" font-family="'Liberation Sans', sans-serif" font-size="12.4" fill="#8c8c8c" text-anchor="middle" stroke="#8c8c8c" stroke-width="0.3">6</text>
<circle cx="706.6" cy="1063.7" r="10.1" fill="none" stroke="#eb5c84" stroke-width="1"/>
<text x="706.6" y="1069.1000000000001" font-family="'Liberation Sans', sans-serif" font-size="12.4" font-weight="bold" fill="#3e3e3e" text-anchor="middle">7</text>
<text x="744.4" y="1069.1000000000001" font-family="'Liberation Sans', sans-serif" font-size="12.4" font-weight="bold" fill="#3e3e3e" text-anchor="middle">8</text>
<circle cx="783.1" cy="1063.7" r="10.1" fill="none" stroke="#eb5c84" stroke-width="1"/>
<text x="783.1" y="1069.1000000000001" font-family="'Liberation Sans', sans-serif" font-size="12.4" font-weight="bold" fill="#3e3e3e" text-anchor="middle">9</text>
<circle cx="822.3" cy="1063.7" r="10.1" fill="none" stroke="#eb5c84" stroke-width="1"/>
<text x="822.3" y="1069.1000000000001" font-family="'Liberation Sans', sans-serif" font-size="12.4" font-weight="bold" fill="#3e3e3e" text-anchor="middle">10</text>
<circle cx="861.4" cy="1063.7" r="10.1" fill="none" stroke="#eb5c84" stroke-width="1"/>
<text x="861.4" y="1069.1000000000001" font-family="'Liberation Sans', sans-serif" font-size="12.4" font-weight="bold" fill="#3e3e3e" text-anchor="middle">11</text>
<text x="900" y="1069.1000000000001" font-family="'Liberation Sans', sans-serif" font-size="12.4" fill="#8c8c8c" text-anchor="middle" stroke="#8c8c8c" stroke-width="0.3">12</text>
<circle cx="939" cy="1063.7" r="10.1" fill="none" stroke="#eb5c84" stroke-width="1"/>
<text x="939" y="1069.1000000000001" font-family="'Liberation Sans', sans-serif" font-size="12.4" fill="#8c8c8c" text-anchor="middle" stroke="#8c8c8c" stroke-width="0.3">13</text>
<circle cx="706.6" cy="1084.8" r="10.1" fill="none" stroke="#eb5c84" stroke-width="1"/>
<text x="706.6" y="1090.2" font-family="'Liberation Sans', sans-serif" font-size="12.4" font-weight="bold" fill="#3e3e3e" text-anchor="middle">14</text>
<text x="744.4" y="1090.2" font-family="'Liberation Sans', sans-serif" font-size="12.4" font-weight="bold" fill="#3e3e3e" text-anchor="middle">15</text>
<circle cx="783.1" cy="1084.8" r="10.1" fill="none" stroke="#eb5c84" stroke-width="1"/>
<text x="783.1" y="1090.2" font-family="'Liberation Sans', sans-serif" font-size="12.4" font-weight="bold" fill="#3e3e3e" text-anchor="middle">16</text>
<text x="822.3" y="1090.2" font-family="'Liberation Sans', sans-serif" font-size="12.4" font-weight="bold" fill="#3e3e3e" text-anchor="middle">17</text>
<circle cx="861.4" cy="1084.8" r="10.1" fill="none" stroke="#eb5c84" stroke-width="1"/>
<text x="861.4" y="1090.2" font-family="'Liberation Sans', sans-serif" font-size="12.4" font-weight="bold" fill="#3e3e3e" text-anchor="middle">18</text>
<circle cx="900" cy="1084.8" r="10.1" fill="none" stroke="#eb5c84" stroke-width="1"/>
<text x="900" y="1090.2" font-family="'Liberation Sans', sans-serif" font-size="12.4" fill="#8c8c8c" text-anchor="middle" stroke="#8c8c8c" stroke-width="0.3">19</text>
<circle cx="939" cy="1084.8" r="10.1" fill="none" stroke="#eb5c84" stroke-width="1"/>
<text x="939" y="1090.2" font-family="'Liberation Sans', sans-serif" font-size="12.4" fill="#8c8c8c" text-anchor="middle" stroke="#8c8c8c" stroke-width="0.3">20</text>
<circle cx="706.6" cy="1106.2" r="10.1" fill="none" stroke="#eb5c84" stroke-width="1"/>
<text x="706.6" y="1111.6000000000001" font-family="'Liberation Sans', sans-serif" font-size="12.4" font-weight="bold" fill="#3e3e3e" text-anchor="middle">21</text>
<circle cx="744.4" cy="1106.2" r="10.1" fill="none" stroke="#eb5c84" stroke-width="1"/>
<text x="744.4" y="1111.6000000000001" font-family="'Liberation Sans', sans-serif" font-size="12.4" font-weight="bold" fill="#3e3e3e" text-anchor="middle">22</text>
<circle cx="783.1" cy="1106.2" r="10.1" fill="none" stroke="#eb5c84" stroke-width="1"/>
<text x="783.1" y="1111.6000000000001" font-family="'Liberation Sans', sans-serif" font-size="12.4" font-weight="bold" fill="#3e3e3e" text-anchor="middle">23</text>
<circle cx="822.3" cy="1106.2" r="10.1" fill="none" stroke="#eb5c84" stroke-width="1"/>
<text x="822.3" y="1111.6000000000001" font-family="'Liberation Sans', sans-serif" font-size="12.4" font-weight="bold" fill="#3e3e3e" text-anchor="middle">24</text>
<circle cx="861.4" cy="1106.2" r="10.1" fill="none" stroke="#eb5c84" stroke-width="1"/>
<text x="861.4" y="1111.6000000000001" font-family="'Liberation Sans', sans-serif" font-size="12.4" font-weight="bold" fill="#3e3e3e" text-anchor="middle">25</text>
<circle cx="900" cy="1106.2" r="10.1" fill="none" stroke="#eb5c84" stroke-width="1"/>
<text x="900" y="1111.6000000000001" font-family="'Liberation Sans', sans-serif" font-size="12.4" fill="#8c8c8c" text-anchor="middle" stroke="#8c8c8c" stroke-width="0.3">26</text>
<circle cx="939" cy="1106.2" r="10.1" fill="none" stroke="#eb5c84" stroke-width="1"/>
<text x="939" y="1111.6000000000001" font-family="'Liberation Sans', sans-serif" font-size="12.4" fill="#8c8c8c" text-anchor="middle" stroke="#8c8c8c" stroke-width="0.3">27</text>
<circle cx="706.6" cy="1127.3" r="10.1" fill="none" stroke="#eb5c84" stroke-width="1"/>
<text x="706.6" y="1132.7" font-family="'Liberation Sans', sans-serif" font-size="12.4" font-weight="bold" fill="#3e3e3e" text-anchor="middle">28</text>
<circle cx="744.4" cy="1127.3" r="10.1" fill="none" stroke="#eb5c84" stroke-width="1"/>
<text x="744.4" y="1132.7" font-family="'Liberation Sans', sans-serif" font-size="12.4" font-weight="bold" fill="#3e3e3e" text-anchor="middle">29</text>
<circle cx="783.1" cy="1127.3" r="10.1" fill="none" stroke="#eb5c84" stroke-width="1"/>
<text x="783.1" y="1132.7" font-family="'Liberation Sans', sans-serif" font-size="12.4" font-weight="bold" fill="#3e3e3e" text-anchor="middle">30</text>
<circle cx="822.3" cy="1127.3" r="10.1" fill="none" stroke="#eb5c84" stroke-width="1"/>
<text x="822.3" y="1132.7" font-family="'Liberation Sans', sans-serif" font-size="12.4" font-weight="bold" fill="#3e3e3e" text-anchor="middle">31</text>
<text x="370.9" y="1184.9" font-family="'Liberation Sans', sans-serif" font-size="8.5" fill="#222">*</text>
<text x="378.4" y="1188.9" font-family="'Liberation Sans', sans-serif" font-size="13.7" fill="#1a1a1a" textLength="581.23" lengthAdjust="spacingAndGlyphs" stroke="#1a1a1a" stroke-width="0.2">При расчетах учитывались только подтвержденные властями падения или падения,</text>
<text x="370.5" y="1205.6" font-family="'Liberation Sans', sans-serif" font-size="13.7" fill="#1a1a1a" textLength="588.44" lengthAdjust="spacingAndGlyphs" stroke="#1a1a1a" stroke-width="0.2">зафиксированные на фото или видео. Не учитывались дроны, упавшие ближе 20 км к</text>
<text x="370.5" y="1222.6" font-family="'Liberation Sans', sans-serif" font-size="13.7" fill="#1a1a1a" textLength="537.82" lengthAdjust="spacingAndGlyphs" stroke="#1a1a1a" stroke-width="0.2">границе с Украиной. Если количество БПЛА неизвестно, учитвался один дрон</text>
<rect x="44.75" y="1171.75" width="311" height="58" fill="none" stroke="#000" stroke-width="7.5"/>
<g fill="#000"><path fill-rule="evenodd" d="M90.60,1201.85L90.58,1202.90L90.52,1203.79L90.42,1204.63L90.28,1205.43L90.10,1206.20L89.88,1206.94L89.63,1207.65L89.33,1208.35L89.00,1209.01L88.63,1209.65L88.22,1210.27L87.78,1210.86L87.30,1211.42L86.78,1211.96L86.24,1212.47L85.66,1212.95L85.05,1213.40L84.41,1213.82L83.74,1214.21L83.03,1214.57L82.30,1214.89L81.54,1215.18L80.76,1215.44L79.94,1215.67L79.10,1215.86L78.22,1216.02L77.31,1216.14L76.36,1216.23L75.34,1216.28L74.15,1216.30L72.96,1216.28L71.94,1216.23L70.99,1216.14L70.08,1216.02L69.20,1215.86L68.36,1215.67L67.54,1215.44L66.76,1215.18L66.00,1214.89L65.27,1214.57L64.56,1214.21L63.89,1213.82L63.25,1213.40L62.64,1212.95L62.06,1212.47L61.52,1211.96L61.00,1211.42L60.52,1210.86L60.08,1210.27L59.67,1209.65L59.30,1209.01L58.97,1208.35L58.67,1207.65L58.42,1206.94L58.20,1206.20L58.02,1205.43L57.88,1204.63L57.78,1203.79L57.72,1202.90L57.70,1201.85L57.72,1200.80L57.78,1199.91L57.88,1199.07L58.02,1198.27L58.20,1197.50L58.42,1196.76L58.67,1196.05L58.97,1195.35L59.30,1194.69L59.67,1194.05L60.08,1193.43L60.52,1192.84L61.00,1192.28L61.52,1191.74L62.06,1191.23L62.64,1190.75L63.25,1190.30L63.89,1189.88L64.56,1189.49L65.27,1189.13L66.00,1188.81L66.76,1188.52L67.54,1188.26L68.36,1188.03L69.20,1187.84L70.08,1187.68L70.99,1187.56L71.94,1187.47L72.96,1187.42L74.15,1187.40L75.34,1187.42L76.36,1187.47L77.31,1187.56L78.22,1187.68L79.10,1187.84L79.94,1188.03L80.76,1188.26L81.54,1188.52L82.30,1188.81L83.03,1189.13L83.74,1189.49L84.41,1189.88L85.05,1190.30L85.66,1190.75L86.24,1191.23L86.78,1191.74L87.30,1192.28L87.78,1192.84L88.22,1193.43L88.63,1194.05L89.00,1194.69L89.33,1195.35L89.63,1196.05L89.88,1196.76L90.10,1197.50L90.28,1198.27L90.42,1199.07L90.52,1199.91L90.58,1200.80Z M82.30,1201.85L82.29,1202.63L82.27,1203.15L82.23,1203.61L82.17,1204.02L82.09,1204.40L82.00,1204.76L81.90,1205.10L81.77,1205.42L81.63,1205.72L81.48,1206.01L81.30,1206.28L81.12,1206.54L80.91,1206.78L80.69,1207.01L80.45,1207.23L80.20,1207.43L79.93,1207.62L79.65,1207.79L79.35,1207.95L79.03,1208.10L78.69,1208.23L78.34,1208.35L77.96,1208.46L77.56,1208.55L77.14,1208.62L76.70,1208.69L76.21,1208.74L75.68,1208.77L75.07,1208.79L74.15,1208.80L73.23,1208.79L72.62,1208.77L72.09,1208.74L71.60,1208.69L71.16,1208.62L70.74,1208.55L70.34,1208.46L69.96,1208.35L69.61,1208.23L69.27,1208.10L68.95,1207.95L68.65,1207.79L68.37,1207.62L68.10,1207.43L67.85,1207.23L67.61,1207.01L67.39,1206.78L67.18,1206.54L67.00,1206.28L66.82,1206.01L66.67,1205.72L66.53,1205.42L66.40,1205.10L66.30,1204.76L66.21,1204.40L66.13,1204.02L66.07,1203.61L66.03,1203.15L66.01,1202.63L66.00,1201.85L66.01,1201.07L66.03,1200.55L66.07,1200.09L66.13,1199.68L66.21,1199.30L66.30,1198.94L66.40,1198.60L66.53,1198.28L66.67,1197.98L66.82,1197.69L67.00,1197.42L67.18,1197.16L67.39,1196.92L67.61,1196.69L67.85,1196.47L68.10,1196.27L68.37,1196.08L68.65,1195.91L68.95,1195.75L69.27,1195.60L69.61,1195.47L69.96,1195.35L70.34,1195.24L70.74,1195.15L71.16,1195.08L71.60,1195.01L72.09,1194.96L72.62,1194.93L73.23,1194.91L74.15,1194.90L75.07,1194.91L75.68,1194.93L76.21,1194.96L76.70,1195.01L77.14,1195.08L77.56,1195.15L77.96,1195.24L78.34,1195.35L78.69,1195.47L79.03,1195.60L79.35,1195.75L79.65,1195.91L79.93,1196.08L80.20,1196.27L80.45,1196.47L80.69,1196.69L80.91,1196.92L81.12,1197.16L81.30,1197.42L81.48,1197.69L81.63,1197.98L81.77,1198.28L81.90,1198.60L82.00,1198.94L82.09,1199.30L82.17,1199.68L82.23,1200.09L82.27,1200.55L82.29,1201.07Z"/><rect x="83.60" y="1187.40" width="7.40" height="28.90"/><rect x="99.10" y="1187.40" width="7.20" height="28.90"/><rect x="99.10" y="1187.40" width="19.30" height="7.60"/><path d="M148.41,1210.27L147.90,1211.00L147.35,1211.69L146.74,1212.33L146.09,1212.93L145.39,1213.49L144.64,1214.00L143.86,1214.46L143.03,1214.87L142.17,1215.23L141.26,1215.54L140.32,1215.80L139.33,1216.00L138.29,1216.16L137.19,1216.25L135.97,1216.30L134.55,1216.29L133.39,1216.22L132.31,1216.10L131.30,1215.93L130.32,1215.71L129.39,1215.43L128.50,1215.10L127.65,1214.72L126.84,1214.29L126.07,1213.81L125.35,1213.28L124.67,1212.71L124.03,1212.09L123.44,1211.43L122.90,1210.73L122.41,1209.99L121.97,1209.20L121.58,1208.38L121.25,1207.52L120.97,1206.62L120.74,1205.69L120.58,1204.70L120.46,1203.66L120.41,1202.53L120.41,1201.15L120.46,1200.02L120.58,1198.98L120.75,1198.00L120.97,1197.06L121.25,1196.16L121.59,1195.30L121.98,1194.48L122.42,1193.70L122.91,1192.96L123.45,1192.26L124.04,1191.60L124.68,1190.98L125.36,1190.41L126.08,1189.88L126.85,1189.40L127.67,1188.97L128.52,1188.59L129.41,1188.27L130.34,1187.99L131.31,1187.76L132.33,1187.59L133.41,1187.48L134.57,1187.41L135.99,1187.40L137.21,1187.45L138.31,1187.55L139.34,1187.70L140.33,1187.91L141.28,1188.16L142.18,1188.48L143.05,1188.84L143.87,1189.25L144.66,1189.71L145.40,1190.22L146.10,1190.78L146.75,1191.38L147.35,1192.02L147.91,1192.71L148.42,1193.44L148.88,1194.21L149.29,1195.02L149.64,1195.86L149.94,1196.75L150.18,1197.67L150.37,1198.64L150.50,1199.66L150.58,1200.75L150.60,1202.08L150.56,1203.29L150.47,1204.35L142.55,1203.46L142.59,1202.87L142.60,1202.07L142.59,1201.04L142.56,1200.41L142.51,1199.87L142.44,1199.38L142.34,1198.93L142.22,1198.52L142.08,1198.13L141.92,1197.76L141.74,1197.42L141.53,1197.11L141.30,1196.81L141.05,1196.54L140.78,1196.28L140.49,1196.05L140.18,1195.84L139.84,1195.65L139.48,1195.48L139.10,1195.33L138.69,1195.21L138.25,1195.10L137.77,1195.02L137.25,1194.96L136.66,1194.92L135.91,1194.90L134.80,1194.90L134.13,1194.93L133.57,1194.98L133.06,1195.05L132.60,1195.14L132.17,1195.25L131.77,1195.38L131.39,1195.54L131.04,1195.71L130.71,1195.91L130.40,1196.13L130.12,1196.37L129.86,1196.63L129.62,1196.91L129.40,1197.21L129.20,1197.54L129.02,1197.89L128.87,1198.26L128.74,1198.66L128.63,1199.08L128.54,1199.54L128.47,1200.04L128.43,1200.61L128.40,1201.30L128.40,1202.39L128.42,1203.08L128.47,1203.65L128.54,1204.15L128.62,1204.61L128.73,1205.04L128.87,1205.44L129.02,1205.81L129.20,1206.16L129.39,1206.48L129.61,1206.79L129.85,1207.07L130.12,1207.33L130.40,1207.57L130.71,1207.79L131.03,1207.98L131.38,1208.16L131.76,1208.32L132.16,1208.45L132.59,1208.56L133.05,1208.65L133.56,1208.72L134.12,1208.77L134.79,1208.79L135.90,1208.80L136.65,1208.78L137.24,1208.74L137.76,1208.68L138.24,1208.60L138.68,1208.49L139.09,1208.37L139.48,1208.22L139.84,1208.05L140.17,1207.86L140.49,1207.65L140.78,1207.42L141.05,1207.17L141.30,1206.89L141.53,1206.60L141.73,1206.28Z"/><rect x="126.00" y="1199.60" width="24.00" height="5.60"/><rect x="155.60" y="1187.40" width="7.20" height="28.90"/><rect x="176.40" y="1187.40" width="7.20" height="28.90"/><rect x="155.60" y="1197.80" width="28.00" height="7.40"/><rect x="188.10" y="1187.40" width="25.30" height="7.60"/><rect x="197.00" y="1187.40" width="7.40" height="28.90"/><path d="M247.33,1208.35L246.94,1209.11L246.50,1209.85L246.02,1210.55L245.48,1211.21L244.90,1211.84L244.28,1212.44L243.61,1212.99L242.89,1213.50L242.14,1213.98L241.35,1214.41L240.52,1214.80L239.65,1215.15L238.74,1215.45L237.79,1215.71L236.81,1215.92L235.78,1216.08L234.70,1216.20L233.55,1216.27L232.23,1216.30L230.84,1216.28L229.68,1216.21L228.60,1216.09L227.57,1215.93L226.58,1215.72L225.63,1215.47L224.72,1215.17L223.85,1214.83L223.01,1214.44L222.22,1214.01L221.46,1213.54L220.75,1213.03L220.07,1212.48L219.45,1211.89L218.86,1211.26L218.32,1210.60L217.83,1209.90L217.39,1209.17L217.00,1208.41L216.66,1207.61L216.37,1206.78L216.13,1205.91L215.94,1205.01L215.81,1204.06L215.73,1203.04L215.70,1201.85L215.73,1200.66L215.81,1199.64L215.94,1198.69L216.13,1197.79L216.37,1196.92L216.66,1196.09L217.00,1195.29L217.39,1194.53L217.83,1193.80L218.32,1193.10L218.86,1192.44L219.45,1191.81L220.07,1191.22L220.75,1190.67L221.46,1190.16L222.22,1189.69L223.01,1189.26L223.85,1188.87L224.72,1188.53L225.63,1188.23L226.58,1187.98L227.57,1187.77L228.60,1187.61L229.68,1187.49L230.84,1187.42L232.23,1187.40L233.55,1187.43L234.70,1187.50L235.78,1187.62L236.81,1187.78L237.79,1187.99L238.74,1188.25L239.65,1188.55L240.52,1188.90L241.35,1189.29L242.14,1189.72L242.89,1190.20L243.61,1190.71L244.28,1191.26L244.90,1191.86L245.48,1192.49L246.02,1193.15L246.50,1193.85L246.94,1194.59L247.33,1195.35L239.77,1198.28L239.61,1197.93L239.42,1197.60L239.22,1197.30L238.99,1197.01L238.74,1196.74L238.47,1196.49L238.18,1196.25L237.87,1196.04L237.53,1195.84L237.17,1195.67L236.79,1195.51L236.38,1195.37L235.95,1195.24L235.49,1195.14L235.00,1195.05L234.46,1194.99L233.88,1194.94L233.20,1194.91L232.24,1194.90L231.16,1194.91L230.47,1194.94L229.88,1194.98L229.34,1195.05L228.84,1195.13L228.38,1195.23L227.95,1195.36L227.54,1195.49L227.16,1195.65L226.80,1195.83L226.46,1196.02L226.14,1196.24L225.85,1196.47L225.58,1196.72L225.33,1196.99L225.10,1197.27L224.89,1197.58L224.70,1197.91L224.54,1198.25L224.40,1198.62L224.28,1199.02L224.18,1199.44L224.10,1199.89L224.04,1200.40L224.01,1200.98L224.00,1201.85L224.01,1202.72L224.04,1203.30L224.10,1203.81L224.18,1204.26L224.28,1204.68L224.40,1205.08L224.54,1205.45L224.70,1205.79L224.89,1206.12L225.10,1206.43L225.33,1206.71L225.58,1206.98L225.85,1207.23L226.14,1207.46L226.46,1207.68L226.80,1207.87L227.16,1208.05L227.54,1208.21L227.95,1208.34L228.38,1208.47L228.84,1208.57L229.34,1208.65L229.88,1208.72L230.47,1208.76L231.16,1208.79L232.24,1208.80L233.20,1208.79L233.88,1208.76L234.46,1208.71L235.00,1208.65L235.49,1208.56L235.95,1208.46L236.38,1208.33L236.79,1208.19L237.17,1208.03L237.53,1207.86L237.87,1207.66L238.18,1207.45L238.47,1207.21L238.74,1206.96L238.99,1206.69L239.22,1206.40L239.42,1206.10L239.61,1205.77L239.77,1205.42Z"/><rect x="250.20" y="1187.40" width="25.20" height="7.60"/><rect x="259.00" y="1187.40" width="7.50" height="28.90"/><path fill-rule="evenodd" d="M280.3,1187.4 H297.5 C303,1187.4 304.6,1191 304.6,1194.6 C304.6,1198 303.2,1200.2 300.6,1201.4 C304,1202.4 305.7,1204.8 305.7,1208.2 C305.7,1213.4 302.6,1216.3 297.5,1216.3 H280.3 Z M287.5,1194.4 V1199.2 H296.2 C298,1199.2 298.4,1197.9 298.4,1196.8 C298.4,1195.4 297.8,1194.4 296.2,1194.4 Z M287.5,1204.9 V1209.7 H296.6 C298.4,1209.7 299,1208.6 299,1207.3 C299,1205.9 298.3,1204.9 296.6,1204.9 Z"/><path fill-rule="evenodd" d="M342.10,1201.85L342.08,1202.90L342.02,1203.79L341.92,1204.63L341.78,1205.43L341.59,1206.20L341.37,1206.94L341.11,1207.65L340.81,1208.35L340.47,1209.01L340.10,1209.65L339.68,1210.27L339.23,1210.86L338.75,1211.42L338.23,1211.96L337.67,1212.47L337.08,1212.95L336.46,1213.40L335.81,1213.82L335.13,1214.21L334.42,1214.57L333.68,1214.89L332.91,1215.18L332.11,1215.44L331.28,1215.67L330.42,1215.86L329.53,1216.02L328.61,1216.14L327.64,1216.23L326.61,1216.28L325.40,1216.30L324.19,1216.28L323.16,1216.23L322.19,1216.14L321.27,1216.02L320.38,1215.86L319.52,1215.67L318.69,1215.44L317.89,1215.18L317.12,1214.89L316.38,1214.57L315.67,1214.21L314.99,1213.82L314.34,1213.40L313.72,1212.95L313.13,1212.47L312.57,1211.96L312.05,1211.42L311.57,1210.86L311.12,1210.27L310.70,1209.65L310.33,1209.01L309.99,1208.35L309.69,1207.65L309.43,1206.94L309.21,1206.20L309.02,1205.43L308.88,1204.63L308.78,1203.79L308.72,1202.90L308.70,1201.85L308.72,1200.80L308.78,1199.91L308.88,1199.07L309.02,1198.27L309.21,1197.50L309.43,1196.76L309.69,1196.05L309.99,1195.35L310.33,1194.69L310.70,1194.05L311.12,1193.43L311.57,1192.84L312.05,1192.28L312.57,1191.74L313.13,1191.23L313.72,1190.75L314.34,1190.30L314.99,1189.88L315.67,1189.49L316.38,1189.13L317.12,1188.81L317.89,1188.52L318.69,1188.26L319.52,1188.03L320.38,1187.84L321.27,1187.68L322.19,1187.56L323.16,1187.47L324.19,1187.42L325.40,1187.40L326.61,1187.42L327.64,1187.47L328.61,1187.56L329.53,1187.68L330.42,1187.84L331.28,1188.03L332.11,1188.26L332.91,1188.52L333.68,1188.81L334.42,1189.13L335.13,1189.49L335.81,1189.88L336.46,1190.30L337.08,1190.75L337.67,1191.23L338.23,1191.74L338.75,1192.28L339.23,1192.84L339.68,1193.43L340.10,1194.05L340.47,1194.69L340.81,1195.35L341.11,1196.05L341.37,1196.76L341.59,1197.50L341.78,1198.27L341.92,1199.07L342.02,1199.91L342.08,1200.80Z M333.80,1201.85L333.79,1202.63L333.77,1203.15L333.72,1203.61L333.66,1204.02L333.59,1204.40L333.49,1204.76L333.38,1205.10L333.26,1205.42L333.11,1205.72L332.95,1206.01L332.77,1206.28L332.58,1206.54L332.37,1206.78L332.14,1207.01L331.90,1207.23L331.64,1207.43L331.36,1207.62L331.07,1207.79L330.76,1207.95L330.43,1208.10L330.08,1208.23L329.71,1208.35L329.33,1208.46L328.92,1208.55L328.49,1208.62L328.02,1208.69L327.53,1208.74L326.98,1208.77L326.34,1208.79L325.40,1208.80L324.46,1208.79L323.82,1208.77L323.27,1208.74L322.78,1208.69L322.31,1208.62L321.88,1208.55L321.47,1208.46L321.09,1208.35L320.72,1208.23L320.37,1208.10L320.04,1207.95L319.73,1207.79L319.44,1207.62L319.16,1207.43L318.90,1207.23L318.66,1207.01L318.43,1206.78L318.22,1206.54L318.03,1206.28L317.85,1206.01L317.69,1205.72L317.54,1205.42L317.42,1205.10L317.31,1204.76L317.21,1204.40L317.14,1204.02L317.08,1203.61L317.03,1203.15L317.01,1202.63L317.00,1201.85L317.01,1201.07L317.03,1200.55L317.08,1200.09L317.14,1199.68L317.21,1199.30L317.31,1198.94L317.42,1198.60L317.54,1198.28L317.69,1197.98L317.85,1197.69L318.03,1197.42L318.22,1197.16L318.43,1196.92L318.66,1196.69L318.90,1196.47L319.16,1196.27L319.44,1196.08L319.73,1195.91L320.04,1195.75L320.37,1195.60L320.72,1195.47L321.09,1195.35L321.47,1195.24L321.88,1195.15L322.31,1195.08L322.78,1195.01L323.27,1194.96L323.82,1194.93L324.46,1194.91L325.40,1194.90L326.34,1194.91L326.98,1194.93L327.53,1194.96L328.02,1195.01L328.49,1195.08L328.92,1195.15L329.33,1195.24L329.71,1195.35L330.08,1195.47L330.43,1195.60L330.76,1195.75L331.07,1195.91L331.36,1196.08L331.64,1196.27L331.90,1196.47L332.14,1196.69L332.37,1196.92L332.58,1197.16L332.77,1197.42L332.95,1197.69L333.11,1197.98L333.26,1198.28L333.38,1198.60L333.49,1198.94L333.59,1199.30L333.66,1199.68L333.72,1200.09L333.77,1200.55L333.79,1201.07Z"/></g>
</svg>
</body>
</html>
